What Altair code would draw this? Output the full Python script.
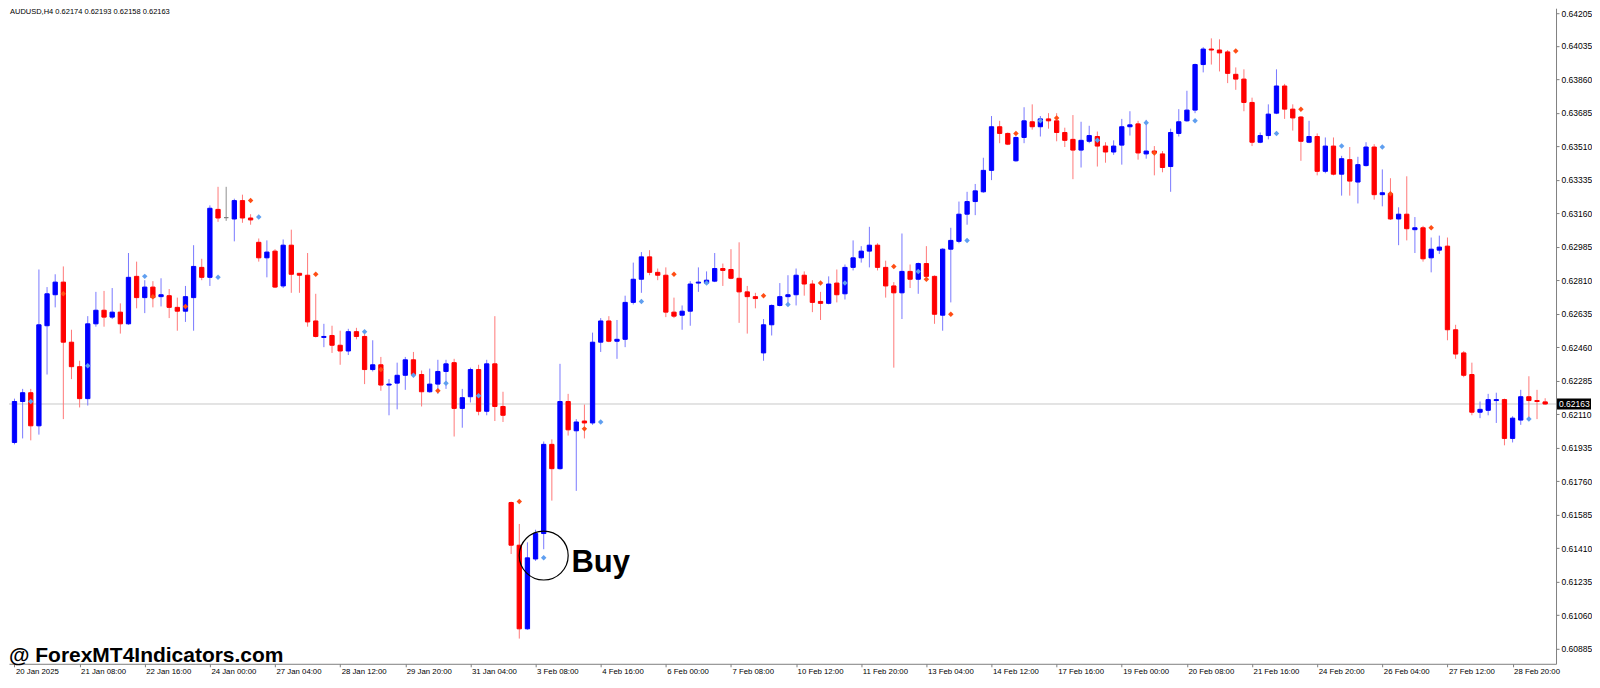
import json
import altair as alt
import pandas as pd
import numpy as np

# ---------------- data (AUDUSD H4) ----------------
opens = [0.61962, 0.62176, 0.62222, 0.62049, 0.62572, 0.62734, 0.62800, 0.62486, 0.62358, 0.62191,
         0.62582, 0.62653, 0.62617, 0.62643, 0.62582, 0.62830, 0.62719, 0.62774, 0.62724, 0.62729,
         0.62668, 0.62648, 0.62719, 0.62877, 0.62825, 0.63180, 0.63137, 0.63130, 0.63226, 0.63135,
         0.63008, 0.62927, 0.62962, 0.62780, 0.62993, 0.62846, 0.62836, 0.62597, 0.62511, 0.62521,
         0.62470, 0.62440, 0.62541, 0.62516, 0.62343, 0.62368, 0.62262, 0.62272, 0.62313, 0.62394,
         0.62317, 0.62227, 0.62267, 0.62333, 0.62379, 0.62140, 0.62201, 0.62343, 0.62125, 0.62373,
         0.62150, 0.61648, 0.61425, 0.60988, 0.61353, 0.61486, 0.61952, 0.61825, 0.62176, 0.62023,
         0.62074, 0.62064, 0.62486, 0.62597, 0.62491, 0.62501, 0.62694, 0.62815, 0.62932, 0.62851,
         0.62836, 0.62643, 0.62627, 0.62648, 0.62795, 0.62795, 0.62805, 0.62871, 0.62866, 0.62820,
         0.62749, 0.62724, 0.62430, 0.62577, 0.62678, 0.62724, 0.62734, 0.62836, 0.62790, 0.62699,
         0.62689, 0.62795, 0.62739, 0.62877, 0.62927, 0.62962, 0.62993, 0.62877, 0.62780, 0.62744,
         0.62856, 0.62815, 0.62897, 0.62830, 0.62627, 0.62972, 0.63013, 0.63155, 0.63221, 0.63272,
         0.63384, 0.63612, 0.63577, 0.63434, 0.63556, 0.63638, 0.63612, 0.63653, 0.63643, 0.63582,
         0.63546, 0.63490, 0.63536, 0.63561, 0.63511, 0.63480, 0.63516, 0.63612, 0.63627, 0.63470,
         0.63485, 0.63470, 0.63404, 0.63577, 0.63643, 0.63699, 0.63937, 0.64018, 0.64013, 0.64003,
         0.63886, 0.63861, 0.63739, 0.63531, 0.63566, 0.63683, 0.63825, 0.63704, 0.63663, 0.63531,
         0.63561, 0.63379, 0.63511, 0.63364, 0.63440, 0.63323, 0.63409, 0.63506, 0.63257, 0.63262,
         0.63130, 0.63155, 0.63074, 0.63084, 0.62927, 0.62967, 0.62988, 0.62551, 0.62430, 0.62317,
         0.62120, 0.62130, 0.62181, 0.62186, 0.61983, 0.62079, 0.62201, 0.62181, 0.62174]

highs = [0.62191, 0.62242, 0.62242, 0.62866, 0.62774, 0.62841, 0.62882, 0.62551, 0.62389, 0.62622,
         0.62749, 0.62754, 0.62769, 0.62689, 0.62952, 0.62907, 0.62810, 0.62805, 0.62820, 0.62764,
         0.62719, 0.62780, 0.62993, 0.62922, 0.63201, 0.63298, 0.63298, 0.63236, 0.63257, 0.63155,
         0.63028, 0.63018, 0.62972, 0.63023, 0.63074, 0.62846, 0.62952, 0.62739, 0.62582, 0.62572,
         0.62546, 0.62556, 0.62561, 0.62541, 0.62496, 0.62409, 0.62293, 0.62379, 0.62409, 0.62435,
         0.62338, 0.62348, 0.62394, 0.62394, 0.62399, 0.62242, 0.62353, 0.62368, 0.62394, 0.62622,
         0.62227, 0.61653, 0.61536, 0.61440, 0.61506, 0.61967, 0.61978, 0.62373, 0.62216, 0.62084,
         0.62160, 0.62536, 0.62612, 0.62622, 0.62602, 0.62729, 0.62902, 0.62957, 0.62967, 0.62871,
         0.62877, 0.62719, 0.62678, 0.62805, 0.62877, 0.62856, 0.62952, 0.62897, 0.62972, 0.63008,
         0.62780, 0.62744, 0.62607, 0.62683, 0.62795, 0.62836, 0.62871, 0.62856, 0.62810, 0.62749,
         0.62830, 0.62866, 0.62892, 0.63018, 0.62988, 0.63089, 0.63003, 0.62912, 0.62800, 0.63054,
         0.62892, 0.62902, 0.62988, 0.62835, 0.62977, 0.63084, 0.63221, 0.63272, 0.63313, 0.63450,
         0.63668, 0.63643, 0.63582, 0.63561, 0.63714, 0.63729, 0.63668, 0.63683, 0.63683, 0.63607,
         0.63673, 0.63638, 0.63617, 0.63587, 0.63531, 0.63541, 0.63653, 0.63693, 0.63643, 0.63648,
         0.63511, 0.63485, 0.63602, 0.63704, 0.63800, 0.63942, 0.64028, 0.64074, 0.64069, 0.64013,
         0.63922, 0.63912, 0.63764, 0.63582, 0.63729, 0.63912, 0.63836, 0.63729, 0.63668, 0.63643,
         0.63577, 0.63556, 0.63556, 0.63460, 0.63506, 0.63455, 0.63531, 0.63521, 0.63389, 0.63343,
         0.63191, 0.63353, 0.63140, 0.63094, 0.63033, 0.63043, 0.63033, 0.62577, 0.62440, 0.62379,
         0.62176, 0.62216, 0.62222, 0.62191, 0.62099, 0.62237, 0.62308, 0.62237, 0.62193]

lows = [0.61952, 0.61983, 0.61973, 0.62003, 0.62317, 0.62668, 0.62084, 0.62293, 0.62145, 0.62155,
        0.62567, 0.62567, 0.62607, 0.62531, 0.62577, 0.62663, 0.62638, 0.62668, 0.62673, 0.62612,
        0.62546, 0.62592, 0.62546, 0.62810, 0.62780, 0.63115, 0.63120, 0.63013, 0.63110, 0.63100,
        0.62907, 0.62825, 0.62769, 0.62769, 0.62744, 0.62744, 0.62567, 0.62511, 0.62460, 0.62430,
        0.62368, 0.62419, 0.62501, 0.62267, 0.62333, 0.62232, 0.62104, 0.62135, 0.62237, 0.62303,
        0.62150, 0.62222, 0.62216, 0.62242, 0.61993, 0.62039, 0.62171, 0.62104, 0.62104, 0.62074,
        0.62069, 0.61379, 0.60937, 0.60983, 0.61343, 0.61404, 0.61658, 0.61820, 0.61998, 0.61709,
        0.61983, 0.62054, 0.62435, 0.62486, 0.62399, 0.62460, 0.62683, 0.62744, 0.62836, 0.62810,
        0.62617, 0.62612, 0.62551, 0.62572, 0.62749, 0.62785, 0.62800, 0.62780, 0.62815, 0.62587,
        0.62531, 0.62663, 0.62389, 0.62521, 0.62673, 0.62678, 0.62678, 0.62729, 0.62643, 0.62602,
        0.62684, 0.62694, 0.62709, 0.62861, 0.62902, 0.62877, 0.62861, 0.62719, 0.62353, 0.62607,
        0.62769, 0.62739, 0.62810, 0.62582, 0.62546, 0.62694, 0.63003, 0.63100, 0.63150, 0.63267,
        0.63333, 0.63526, 0.63516, 0.63429, 0.63526, 0.63597, 0.63561, 0.63602, 0.63536, 0.63506,
        0.63338, 0.63399, 0.63526, 0.63404, 0.63424, 0.63465, 0.63414, 0.63566, 0.63440, 0.63445,
        0.63358, 0.63374, 0.63272, 0.63561, 0.63638, 0.63683, 0.63896, 0.63937, 0.63901, 0.63840,
        0.63805, 0.63693, 0.63511, 0.63526, 0.63546, 0.63678, 0.63653, 0.63592, 0.63434, 0.63526,
        0.63358, 0.63369, 0.63358, 0.63252, 0.63252, 0.63211, 0.63404, 0.63231, 0.63196, 0.63125,
        0.62993, 0.63018, 0.62952, 0.62907, 0.62851, 0.62947, 0.62496, 0.62399, 0.62303, 0.62104,
        0.62089, 0.62104, 0.62064, 0.61947, 0.61962, 0.62054, 0.62084, 0.62084, 0.62158]

closes = [0.62176, 0.62222, 0.62049, 0.62577, 0.62739, 0.62800, 0.62486, 0.62358, 0.62191, 0.62582,
          0.62653, 0.62617, 0.62643, 0.62582, 0.62825, 0.62719, 0.62774, 0.62719, 0.62734, 0.62668,
          0.62648, 0.62724, 0.62882, 0.62825, 0.63186, 0.63135, 0.63137, 0.63226, 0.63135, 0.63125,
          0.62927, 0.62957, 0.62774, 0.62993, 0.62841, 0.62836, 0.62592, 0.62516, 0.62516, 0.62470,
          0.62440, 0.62541, 0.62516, 0.62343, 0.62368, 0.62262, 0.62267, 0.62313, 0.62394, 0.62317,
          0.62227, 0.62267, 0.62333, 0.62373, 0.62140, 0.62196, 0.62343, 0.62125, 0.62373, 0.62150,
          0.62104, 0.61425, 0.60988, 0.61359, 0.61486, 0.61952, 0.61825, 0.62176, 0.62028, 0.62069,
          0.62064, 0.62486, 0.62597, 0.62491, 0.62501, 0.62694, 0.62815, 0.62932, 0.62851, 0.62836,
          0.62643, 0.62622, 0.62648, 0.62790, 0.62800, 0.62810, 0.62871, 0.62861, 0.62820, 0.62749,
          0.62724, 0.62714, 0.62577, 0.62678, 0.62724, 0.62734, 0.62836, 0.62790, 0.62694, 0.62689,
          0.62790, 0.62734, 0.62877, 0.62927, 0.62962, 0.62993, 0.62877, 0.62780, 0.62744, 0.62856,
          0.62815, 0.62897, 0.62830, 0.62632, 0.62972, 0.63018, 0.63155, 0.63221, 0.63277, 0.63384,
          0.63612, 0.63577, 0.63521, 0.63556, 0.63643, 0.63612, 0.63653, 0.63643, 0.63582, 0.63541,
          0.63490, 0.63541, 0.63566, 0.63511, 0.63480, 0.63511, 0.63612, 0.63622, 0.63475, 0.63485,
          0.63475, 0.63399, 0.63582, 0.63638, 0.63699, 0.63937, 0.64018, 0.64013, 0.63998, 0.63891,
          0.63861, 0.63739, 0.63531, 0.63566, 0.63678, 0.63825, 0.63704, 0.63658, 0.63536, 0.63561,
          0.63379, 0.63511, 0.63364, 0.63445, 0.63328, 0.63414, 0.63506, 0.63257, 0.63267, 0.63130,
          0.63155, 0.63079, 0.63084, 0.62922, 0.62972, 0.62983, 0.62551, 0.62424, 0.62313, 0.62120,
          0.62135, 0.62186, 0.62186, 0.61983, 0.62089, 0.62201, 0.62181, 0.62176, 0.62163]

# indicator signals (diamonds)
buy_sig_idx = [2, 9, 16, 25, 30, 43, 49, 53, 57, 65, 72, 77, 85, 95, 102, 111, 117, 126, 133,
               139, 145, 155, 163, 168, 186]
buy_sig_px = [0.62176, 0.62363, 0.62830, 0.62825, 0.63140, 0.62541, 0.62313, 0.62272, 0.62206,
              0.61359, 0.62069, 0.62699, 0.62795, 0.62683, 0.62795, 0.62856, 0.63018, 0.63643,
              0.63541, 0.63633, 0.63643, 0.63577, 0.63511, 0.63506, 0.62084]
sell_sig_idx = [6, 17, 21, 29, 37, 45, 52, 62, 70, 81, 92, 99, 108, 112, 115, 123, 128, 140, 150,
                158, 169, 174]
sell_sig_px = [0.62739, 0.62724, 0.62673, 0.63226, 0.62841, 0.62343, 0.62232, 0.61653, 0.62033,
               0.62841, 0.62729, 0.62795, 0.62882, 0.62815, 0.62632, 0.63577, 0.63658, 0.63475,
               0.64008, 0.63704, 0.63262, 0.63084]

x_tick_bars = list(range(0, 185, 8))
x_tick_labels = ["20 Jan 2025", "21 Jan 08:00", "22 Jan 16:00", "24 Jan 00:00", "27 Jan 04:00",
                 "28 Jan 12:00", "29 Jan 20:00", "31 Jan 04:00", "3 Feb 08:00", "4 Feb 16:00",
                 "6 Feb 00:00", "7 Feb 08:00", "10 Feb 12:00", "11 Feb 20:00", "13 Feb 04:00",
                 "14 Feb 12:00", "17 Feb 16:00", "19 Feb 00:00", "20 Feb 08:00", "21 Feb 16:00",
                 "24 Feb 20:00", "26 Feb 04:00", "27 Feb 12:00", "28 Feb 20:00"]
y_ticks = [0.64205, 0.64035, 0.63860, 0.63685, 0.63510, 0.63335, 0.63160, 0.62985, 0.62810,
           0.62635, 0.62460, 0.62285, 0.62110, 0.61935, 0.61760, 0.61585, 0.61410, 0.61235,
           0.61060, 0.60885]

last_price = 0.62163
header = "AUDUSD,H4  0.62174 0.62193 0.62158 0.62163"
buy_mark_idx, buy_mark_px = 65, 0.61371
buy_text_idx, buy_text_px = 68.4, 0.61283

# ---------------- build ----------------
W, H = 1548, 656
FONT = "Liberation Sans"

df = pd.DataFrame({"idx": range(len(opens)), "open": opens, "high": highs,
                   "low": lows, "close": closes})
o = np.array(opens)
c = np.array(closes)
df["col"] = np.where(c > o, "#0000ff", np.where(c < o, "#ff0000", "#808080"))
df["wcol"] = np.where(c > o, "#7878ff", np.where(c < o, "#ff7878", "#909090"))

xs = alt.Scale(domain=[-0.06, 188.72], nice=False, zero=False)
ys = alt.Scale(domain=[0.608052, 0.642315], nice=False, zero=False)

xaxis = alt.Axis(values=x_tick_bars, title=None, grid=False,
                 labelExpr=json.dumps(x_tick_labels) + "[round(datum.value / 8)]",
                 labelAlign="left", labelOffset=1, labelFlush=False, labelOverlap=False,
                 tickSize=3, labelPadding=1, labelFont=FONT, labelFontSize=7.8,
                 labelColor="black", domainColor="#808080", tickColor="#808080")
yaxis = alt.Axis(orient="right", values=y_ticks, format=".5f", title=None, grid=False,
                 labelFlush=False, labelOverlap=False, tickSize=3, labelPadding=2,
                 labelFont=FONT, labelFontSize=8.5, labelColor="black",
                 domainColor="#808080", tickColor="#808080")


def X(field="idx:Q"):
    return alt.X(field, scale=xs, axis=xaxis)


def Y(field):
    return alt.Y(field, scale=ys, axis=yaxis)


last_df = pd.DataFrame({"price": [last_price], "label": [f"{last_price:.5f}"]})

price_line = alt.Chart(last_df).mark_rule(color="#c8c8c8", strokeWidth=1).encode(
    y=Y("price:Q"))

wicks = alt.Chart(df).mark_rule(strokeWidth=1).encode(
    x=X(), y=Y("low:Q"), y2="high:Q", color=alt.Color("wcol:N", scale=None))

bodies = alt.Chart(df).mark_bar(size=4.3, strokeWidth=1).encode(
    x=X(), y=Y("open:Q"), y2="close:Q",
    color=alt.Color("col:N", scale=None), stroke=alt.Stroke("col:N", scale=None))

buy_df = pd.DataFrame({"idx": buy_sig_idx, "price": buy_sig_px})
sell_df = pd.DataFrame({"idx": sell_sig_idx, "price": sell_sig_px})
buy_pts = alt.Chart(buy_df).mark_point(shape="diamond", filled=True, size=30, opacity=1,
                                       color="#5f9ff0").encode(x=X(), y=Y("price:Q"))
sell_pts = alt.Chart(sell_df).mark_point(shape="diamond", filled=True, size=30, opacity=1,
                                         color="#ff4d14").encode(x=X(), y=Y("price:Q"))

circle_df = pd.DataFrame({"idx": [buy_mark_idx], "price": [buy_mark_px]})
circle = alt.Chart(circle_df).mark_point(shape="circle", filled=False, size=2400, opacity=1,
                                         color="black", strokeWidth=1.2).encode(
    x=X(), y=Y("price:Q"))

buy_txt_df = pd.DataFrame({"idx": [buy_text_idx], "price": [buy_text_px], "t": ["Buy"]})
buy_txt = alt.Chart(buy_txt_df).mark_text(align="left", baseline="alphabetic", fontSize=31,
                                          fontWeight="bold", font=FONT, color="black").encode(
    x=X(), y=Y("price:Q"), text="t:N")

wm = alt.Chart(pd.DataFrame({"t": ["@ ForexMT4Indicators.com"]})).mark_text(
    align="left", baseline="alphabetic", fontSize=21, fontWeight="bold", font=FONT,
    color="black").encode(x=alt.value(0), y=alt.value(H - 2), text="t:N")

head = alt.Chart(pd.DataFrame({"t": [header]})).mark_text(
    align="left", baseline="top", fontSize=7.5, font=FONT, color="black").encode(
    x=alt.value(1), y=alt.value(0), text="t:N")

box = alt.Chart(last_df).mark_tick(orient="horizontal", size=34, thickness=11, opacity=1,
                                   color="black").encode(x=alt.value(W + 18), y=Y("price:Q"))
box_txt = alt.Chart(last_df).mark_text(align="left", baseline="middle", fontSize=8.5, font=FONT,
                                       color="white").encode(
    x=alt.value(W + 3), y=Y("price:Q"), text="label:N")

chart = alt.layer(price_line, wicks, bodies, sell_pts, buy_pts, circle, buy_txt, wm, head,
                  box, box_txt).properties(
    width=W, height=H, padding=0, background="white"
).configure_view(strokeWidth=0)

chart.save("out.html", embed_options={"renderer": "svg", "actions": False})
